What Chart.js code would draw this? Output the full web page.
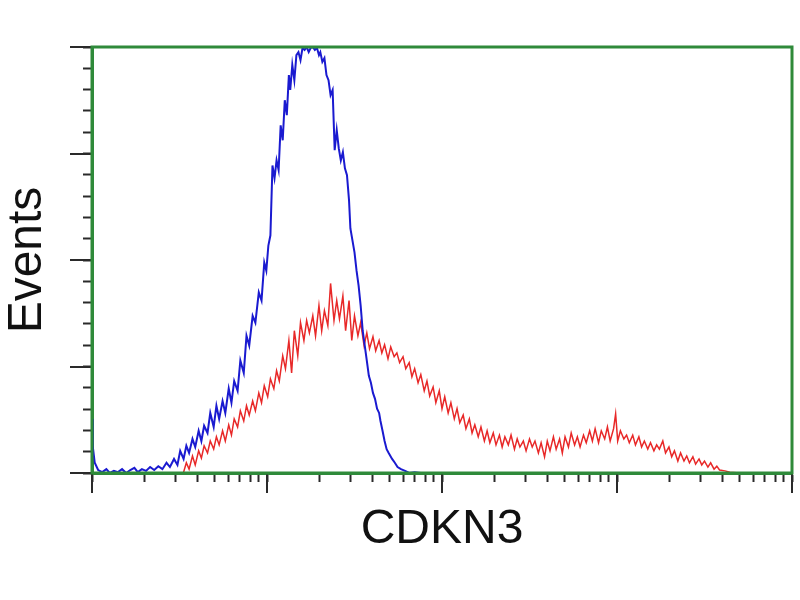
<!DOCTYPE html>
<html>
<head>
<meta charset="utf-8">
<script src="https://cdn.jsdelivr.net/npm/chart.js@4/dist/chart.umd.min.js"></script>
<style>
  body { margin: 0; background: #fff; }
</style>
</head>
<body>
<canvas id="histogram" width="800" height="600"></canvas>
<script>
// channels: 1024 over 4 log decades, events as % of the peak bin
const decades = [0, 1, 2, 3, 4];
const channelsPerDecade = 256;
const minorSteps = [2, 3, 4, 5, 6, 7, 8, 9];
const majorEvents = [0, 25, 50, 75, 100];

const controlX = [0, 1, 4, 9, 15, 21, 26, 32, 38, 44, 50, 56, 62, 67, 73, 79, 85, 91, 97, 103, 109, 114, 120, 125, 129, 134, 138, 142, 147, 151, 156, 160, 164, 169, 173, 178, 182, 186, 191, 195, 200, 204, 208, 213, 217, 222, 226, 230, 235, 239, 244, 248, 252, 255, 258, 261, 264, 267, 270, 273, 276, 279, 282, 285, 288, 290, 293, 296, 299, 302, 305, 308, 311, 314, 317, 320, 323, 326, 329, 332, 334, 337, 340, 343, 346, 349, 352, 355, 358, 361, 364, 367, 370, 373, 376, 378, 381, 384, 387, 390, 393, 396, 399, 402, 405, 408, 411, 414, 417, 420, 422, 425, 428, 431, 434, 439, 443, 447, 452, 458, 464, 472, 481, 493, 508];
const controlY = [12.7, 6.4, 2.4, 0.7, 0.2, 0.9, 0, 0.5, 0.2, 0.9, 0, 0.7, 1.2, 0.2, 0.9, 0.5, 1.4, 0.7, 1.6, 0.9, 2.4, 1.4, 3.3, 1.9, 5.2, 3.3, 6.4, 4.7, 8.0, 6.1, 9.9, 7.5, 11.1, 9.4, 14.1, 10.8, 15.8, 12.7, 16.9, 14.1, 19.8, 16.5, 21.6, 19.3, 26.4, 23.5, 32.2, 29.9, 36.9, 35.3, 42.4, 40.5, 49.4, 47.5, 53.4, 55.8, 72.2, 69.2, 73.4, 71.1, 81.6, 78.1, 87.5, 84.0, 93.4, 89.9, 95.8, 92.2, 98.1, 98.8, 96.9, 99.8, 99.3, 100, 98.8, 99.8, 100, 99.3, 99.8, 98.1, 98.8, 96.5, 97.4, 93.4, 92.2, 88.7, 89.9, 75.8, 80.5, 76.2, 73.4, 75.3, 71.5, 69.9, 64.0, 57.4, 54.6, 51.8, 47.5, 44.0, 39.3, 33.4, 29.9, 26.4, 22.8, 21.2, 18.8, 17.4, 15.1, 14.1, 12.2, 9.9, 7.5, 5.6, 4.7, 3.3, 2.4, 1.4, 0.9, 0.5, 0, 0.2, 0, 0, 0];

const sampleX = [134, 138, 142, 147, 151, 156, 160, 164, 169, 173, 178, 182, 186, 191, 195, 200, 204, 208, 213, 217, 222, 226, 230, 235, 239, 244, 248, 252, 257, 261, 266, 270, 274, 279, 283, 288, 292, 296, 301, 305, 310, 314, 318, 323, 327, 332, 336, 340, 345, 349, 354, 358, 362, 367, 371, 376, 380, 384, 389, 393, 398, 402, 406, 411, 415, 420, 424, 428, 433, 437, 442, 446, 450, 455, 459, 464, 468, 472, 477, 481, 486, 490, 494, 499, 503, 508, 512, 516, 521, 525, 530, 534, 538, 543, 547, 552, 556, 560, 565, 569, 574, 578, 582, 587, 591, 596, 600, 604, 609, 613, 618, 622, 626, 631, 635, 640, 644, 648, 653, 657, 662, 666, 670, 675, 679, 684, 688, 692, 697, 701, 706, 710, 714, 719, 723, 728, 732, 736, 741, 745, 750, 754, 758, 763, 766, 769, 773, 778, 782, 786, 791, 795, 800, 804, 808, 813, 817, 822, 826, 830, 835, 839, 844, 848, 852, 857, 861, 866, 870, 874, 879, 883, 888, 892, 896, 901, 905, 910, 914, 918, 926, 933, 948];
const sampleY = [0.2, 2.4, 0.9, 4.0, 1.9, 5.2, 3.5, 6.4, 4.7, 7.5, 5.6, 8.5, 6.6, 9.9, 7.5, 11.3, 8.9, 12.7, 10.8, 14.6, 12.2, 15.8, 13.6, 16.9, 14.6, 18.8, 16.5, 20.5, 17.9, 22.1, 19.8, 24.0, 21.6, 27.5, 24.5, 31.1, 23.5, 33.4, 27.5, 35.3, 31.1, 35.8, 32.9, 36.9, 32.2, 39.3, 33.4, 38.1, 34.6, 44.5, 35.8, 40.5, 36.2, 41.6, 33.4, 40.5, 31.1, 36.9, 32.2, 35.3, 29.9, 32.9, 29.2, 32.0, 28.7, 31.1, 28.2, 30.1, 26.8, 29.6, 27.3, 28.2, 25.9, 27.3, 24.5, 25.9, 22.6, 24.5, 21.2, 23.1, 19.3, 21.6, 18.1, 20.2, 16.5, 19.3, 15.1, 17.9, 14.1, 16.5, 12.7, 15.1, 11.8, 13.6, 10.4, 12.7, 9.4, 11.3, 8.5, 10.8, 7.5, 9.9, 7.1, 9.4, 6.6, 8.9, 6.1, 8.5, 6.6, 8.9, 5.6, 8.0, 6.1, 7.5, 5.2, 8.0, 6.1, 7.5, 4.7, 7.1, 3.8, 7.5, 5.2, 8.5, 5.6, 8.0, 4.7, 8.5, 6.1, 9.4, 6.6, 8.5, 6.1, 8.9, 7.1, 9.9, 7.5, 10.4, 7.1, 9.9, 8.0, 10.8, 7.5, 10.4, 13.9, 7.5, 9.9, 8.0, 8.9, 7.1, 8.9, 6.6, 8.5, 6.1, 7.5, 5.6, 7.1, 5.2, 6.6, 5.6, 7.5, 4.7, 6.1, 3.8, 5.2, 2.8, 4.7, 2.8, 4.0, 2.4, 3.8, 2.1, 3.3, 1.9, 2.8, 1.4, 2.4, 0.9, 1.6, 0.7, 0.5, 0.2, 0];

const frameGreen = '#2f8a3a';
const tickDark = '#2a2a2a';

function toPoints(xs, ys) {
    return xs.map((x, i) => ({ x: x, y: ys[i] }));
}

function logTicks() {
    const ticks = [];
    decades.slice(0, -1).forEach(d => {
        ticks.push({ value: d * channelsPerDecade });
        minorSteps.forEach(k => {
            ticks.push({ value: (d + Math.log10(k)) * channelsPerDecade });
        });
    });
    ticks.push({ value: decades[decades.length - 1] * channelsPerDecade });
    return ticks;
}

// longer marks on decades / every quarter, plus the green box round the plot
const frameAndMajorTicks = {
    id: 'frameAndMajorTicks',
    afterDraw(chart) {
        const { ctx, chartArea, scales } = chart;
        ctx.save();
        ctx.strokeStyle = tickDark;
        ctx.lineWidth = 2;
        decades.forEach(d => {
            const px = Math.round(scales.x.getPixelForValue(d * channelsPerDecade));
            ctx.beginPath();
            ctx.moveTo(px, chartArea.bottom);
            ctx.lineTo(px, chartArea.bottom + 20);
            ctx.stroke();
        });
        majorEvents.forEach(v => {
            const py = Math.round(scales.y.getPixelForValue(v));
            ctx.beginPath();
            ctx.moveTo(chartArea.left, py);
            ctx.lineTo(chartArea.left - 22, py);
            ctx.stroke();
        });
        ctx.strokeStyle = frameGreen;
        ctx.lineWidth = 3;
        ctx.strokeRect(chartArea.left, chartArea.top, chartArea.right - chartArea.left, chartArea.bottom - chartArea.top);
        ctx.restore();
    }
};

const ctx = document.getElementById('histogram').getContext('2d');
const chart = new Chart(ctx, {
    type: 'line',
    data: {
        datasets: [{
            label: 'Control',
            data: toPoints(controlX, controlY),
            borderColor: '#1a1ad0',
            borderWidth: 2,
            pointRadius: 0,
            tension: 0
        }, {
            label: 'CDKN3',
            data: toPoints(sampleX, sampleY),
            borderColor: '#e82828',
            borderWidth: 1.5,
            pointRadius: 0,
            tension: 0
        }]
    },
    options: {
        responsive: false,
        animation: false,
        layout: { padding: { top: 47, right: 8, left: 0, bottom: 0 } },
        plugins: {
            legend: { display: false },
            tooltip: { enabled: false }
        },
        scales: {
            x: {
                type: 'linear',
                min: 0,
                max: decades[decades.length - 1] * channelsPerDecade,
                afterBuildTicks: scale => { scale.ticks = logTicks(); },
                ticks: { display: false, autoSkip: false },
                grid: { drawOnChartArea: false, tickLength: 9, tickColor: tickDark, tickWidth: 2 },
                border: { color: frameGreen, width: 3 },
                title: {
                    display: true,
                    text: 'CDKN3',
                    color: '#111',
                    font: { family: '"Liberation Sans", Arial, sans-serif', size: 48, lineHeight: 1 },
                    padding: { top: 24, bottom: 46 }
                }
            },
            y: {
                min: 0,
                max: 100,
                ticks: { display: false, stepSize: 5 },
                grid: { drawOnChartArea: false, tickLength: 9, tickColor: tickDark, tickWidth: 2 },
                border: { color: frameGreen, width: 3 },
                title: {
                    display: true,
                    text: 'Events',
                    color: '#111',
                    font: { family: '"Liberation Sans", Arial, sans-serif', size: 48, lineHeight: 1 },
                    padding: { top: 4, bottom: 31 }
                }
            }
        }
    },
    plugins: [frameAndMajorTicks]
});
</script>
</body>
</html>
